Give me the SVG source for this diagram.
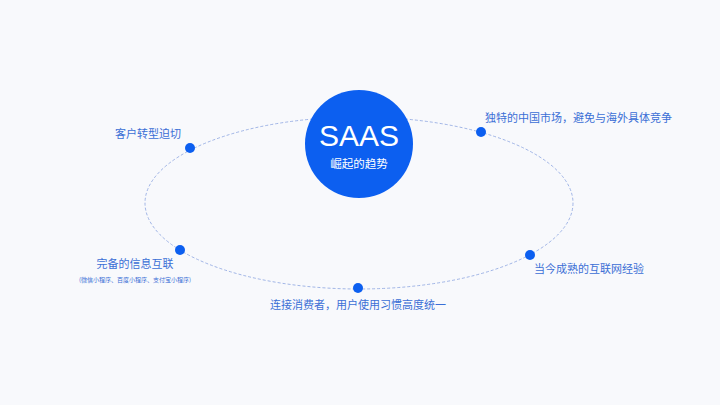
<svg xmlns="http://www.w3.org/2000/svg" width="720" height="405" viewBox="0 0 720 405">
<style>
text{font-family:"Noto Sans CJK SC","Liberation Sans",sans-serif}
.lbl{fill:#3b6fd6;font-size:11px}
.dot{fill:#0c5ff0}
</style>
<rect width="720" height="405" fill="#f8f9fc"/>
<g id="connectors">
<ellipse cx="359" cy="203" rx="214" ry="86" fill="none" stroke="#8aa3e0" stroke-width="0.8" stroke-dasharray="3,2"/>
</g>
<g id="center">
<circle cx="359" cy="144" r="54" fill="#0c5ff0"/>
<text x="359" y="146" text-anchor="middle" fill="#fff" font-size="30" style="font-family:'Liberation Sans',sans-serif">SAAS</text>
<text x="359" y="168" text-anchor="middle" fill="#fff" font-size="11.5">崛起的趋势</text>
</g>
<g id="n1"><circle class="dot" cx="190" cy="148" r="5"/><text class="lbl" x="148" y="138" text-anchor="middle">客户转型迫切</text></g>
<g id="n2"><circle class="dot" cx="481" cy="132" r="5"/><text class="lbl" x="485" y="122">独特的中国市场，避免与海外具体竞争</text></g>
<g id="n3"><circle class="dot" cx="180" cy="250" r="5"/><text class="lbl" x="135" y="268" text-anchor="middle">完备的信息互联</text><text x="135" y="282" text-anchor="middle" fill="#3b6fd6" font-size="6">(微信小程序、百度小程序、支付宝小程序)</text></g>
<g id="n4"><circle class="dot" cx="530" cy="255" r="5"/><text class="lbl" x="534" y="273">当今成熟的互联网经验</text></g>
<g id="n5"><circle class="dot" cx="358" cy="288" r="5"/><text class="lbl" x="358" y="309" text-anchor="middle">连接消费者，用户使用习惯高度统一</text></g>
</svg>
